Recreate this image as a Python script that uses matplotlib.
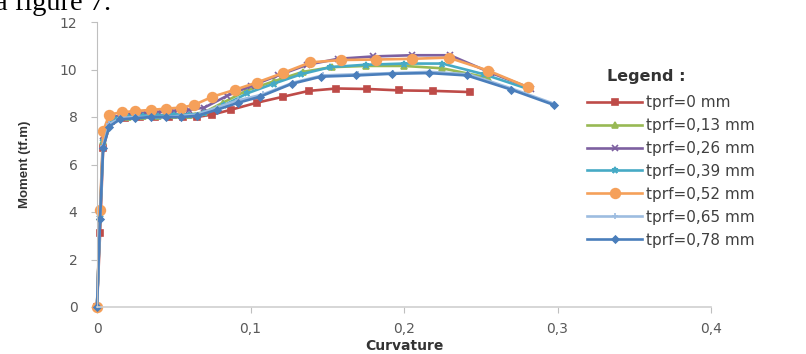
import matplotlib
matplotlib.use("Agg")
import matplotlib.pyplot as plt

# moment-curvature curves
labels = ["tprf=0 mm", "tprf=0,13 mm", "tprf=0,26 mm", "tprf=0,39 mm",
          "tprf=0,52 mm", "tprf=0,65 mm", "tprf=0,78 mm"]

x_0 = [0, 0.002, 0.004, 0.009, 0.018, 0.028, 0.038, 0.047, 0.056, 0.065,
       0.075, 0.087, 0.104, 0.121, 0.138, 0.156, 0.176, 0.197, 0.219, 0.243]
m_0 = [0, 3.1, 6.7, 7.85, 7.95, 7.98, 8.0, 8.0, 8.0, 8.0,
       8.1, 8.3, 8.6, 8.85, 9.1, 9.2, 9.18, 9.12, 9.1, 9.05]

x_13 = [0, 0.002, 0.004, 0.01, 0.02, 0.03, 0.04, 0.05, 0.06, 0.07,
        0.082, 0.097, 0.115, 0.134, 0.153, 0.175, 0.2, 0.225, 0.255]
m_13 = [0, 3.8, 7.0, 7.9, 8.0, 8.05, 8.05, 8.1, 8.1, 8.2,
        8.6, 9.1, 9.5, 9.9, 10.1, 10.15, 10.15, 10.05, 9.65]

x_26 = [0, 0.002, 0.004, 0.01, 0.02, 0.03, 0.04, 0.05, 0.06, 0.07,
        0.085, 0.1, 0.118, 0.137, 0.157, 0.18, 0.205, 0.23, 0.257, 0.283]
m_26 = [0, 3.9, 7.2, 8.0, 8.1, 8.15, 8.2, 8.25, 8.3, 8.4,
        8.9, 9.3, 9.75, 10.2, 10.45, 10.55, 10.6, 10.6, 9.85, 9.2]

x_39 = [0, 0.002, 0.004, 0.01, 0.02, 0.03, 0.04, 0.05, 0.06, 0.07,
        0.083, 0.098, 0.115, 0.133, 0.152, 0.175, 0.2, 0.225, 0.252, 0.28]
m_39 = [0, 3.8, 7.0, 7.95, 8.0, 8.05, 8.05, 8.1, 8.1, 8.15,
        8.5, 9.0, 9.4, 9.8, 10.1, 10.2, 10.25, 10.25, 9.8, 9.2]

x_52 = [0, 0.002, 0.004, 0.008, 0.016, 0.025, 0.035, 0.045, 0.055, 0.063,
        0.075, 0.09, 0.104, 0.121, 0.139, 0.159, 0.182, 0.205, 0.229, 0.255, 0.281]
m_52 = [0, 4.1, 7.4, 8.1, 8.2, 8.25, 8.3, 8.35, 8.4, 8.5,
        8.85, 9.15, 9.45, 9.85, 10.3, 10.4, 10.42, 10.45, 10.5, 9.95, 9.25]

x_65 = [0, 0.002, 0.004, 0.008, 0.015, 0.025, 0.035, 0.045, 0.055, 0.065,
        0.078, 0.092, 0.108, 0.128, 0.147, 0.17, 0.193, 0.217, 0.242, 0.27, 0.298]
m_65 = [0, 3.7, 6.8, 7.7, 7.95, 8.0, 8.0, 8.0, 8.05, 8.1,
        8.4, 8.7, 8.95, 9.45, 9.75, 9.8, 9.85, 9.9, 9.8, 9.2, 8.55]

x_78 = [0, 0.002, 0.004, 0.008, 0.015, 0.025, 0.035, 0.045, 0.055, 0.065,
        0.078, 0.092, 0.106, 0.127, 0.146, 0.169, 0.192, 0.216, 0.241, 0.27, 0.298]
m_78 = [0, 3.7, 6.7, 7.6, 7.9, 7.95, 8.0, 8.0, 8.0, 8.05,
        8.3, 8.6, 8.85, 9.4, 9.7, 9.75, 9.82, 9.85, 9.75, 9.15, 8.5]

x_ticks = [0, 0.1, 0.2, 0.3, 0.4]
x_ticklabels = ["0", "0,1", "0,2", "0,3", "0,4"]
y_ticks = [0, 2, 4, 6, 8, 10, 12]

series = [
    (x_0, m_0, "#BE4B48", "s", 5),
    (x_13, m_13, "#98B954", "^", 5),
    (x_26, m_26, "#7D60A0", "x", 4.5),
    (x_39, m_39, "#46AAC5", "*", 4.5),
    (x_52, m_52, "#F5A05A", "o", 7),
    (x_65, m_65, "#9DBCE0", "+", 4.5),
    (x_78, m_78, "#4A7EBB", "D", 3.5),
]

fig = plt.figure(figsize=(8.06, 3.54), dpi=100)
ax = fig.add_axes([97 / 806, 1 - 307 / 354, (711 - 97) / 806, (307 - 22) / 354])

handles = []
for (xs, ms, col, mk, sz), lab in zip(series, labels):
    h, = ax.plot(xs, ms, color=col, lw=1.9, marker=mk, ms=sz,
                 mec=col, mfc=col, mew=1.2, label=lab, clip_on=False)
    handles.append(h)

ax.set_xlim(0, 0.4)
ax.set_ylim(0, 12)
ax.set_xticks(x_ticks)
ax.set_xticklabels(x_ticklabels)
ax.set_yticks(y_ticks)

for s in ("top", "right"):
    ax.spines[s].set_visible(False)
ax.spines["left"].set_color("#BFBFBF")
ax.spines["bottom"].set_color("#D0D0D0")
ax.spines["bottom"].set_linewidth(1.2)
ax.tick_params(axis="both", colors="#BFBFBF", labelcolor="#595959",
               labelsize=10, length=4, width=0.8)
ax.tick_params(axis="x", pad=7)
ax.tick_params(axis="y", pad=10)

ax.set_xlabel("Curvature", fontsize=10, fontweight="bold", color="#333333", labelpad=2)
ax.set_ylabel("Moment (tf.m)", fontsize=9.5, fontweight="bold", color="#333333",
              family=["Liberation Sans Narrow", "Liberation Sans", "DejaVu Sans"])
ax.yaxis.set_label_coords(-0.108, 0.5)

fig.text(607 / 806, 1 - 77 / 354, "Legend :", fontsize=11.5, fontweight="bold",
         color="#333333", va="center", ha="left")
leg = fig.legend(handles=handles, loc="upper left",
                 bbox_to_anchor=(587 / 806, 1 - 95 / 354), frameon=False,
                 fontsize=11, handlelength=3.6, handletextpad=0.25,
                 labelspacing=0.52, borderpad=0, borderaxespad=0)
for t in leg.get_texts():
    t.set_color("#404040")

# cropped caption text from the scanned page
fig.text(-0.006, 1 - 10 / 354, "a figure 7.", fontsize=20.5, va="baseline", ha="left",
         family=["Liberation Serif", "DejaVu Serif"], color="black")

fig.savefig("out.png", dpi=100)
